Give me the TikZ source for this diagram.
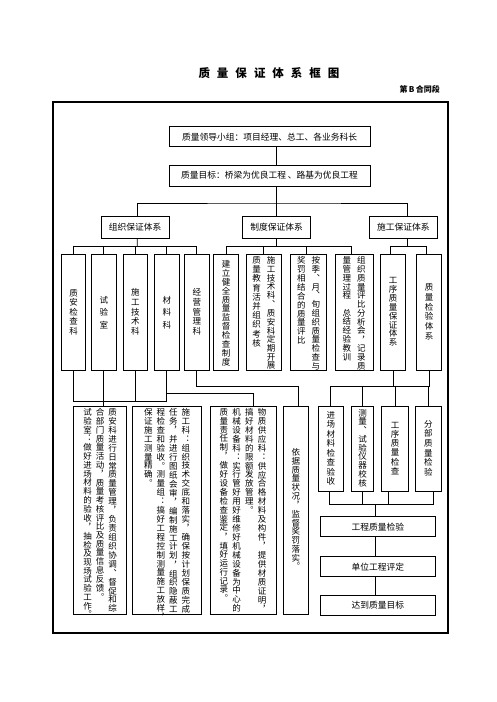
\documentclass[tikz,border=0pt]{standalone}
\usepackage{fontspec}
\setmainfont{Noto Sans CJK SC}
\usetikzlibrary{calc}
\newdimen\vcolpitch
\makeatletter
\def\vcol#1#2{\vtop{\fontsize{8.5pt}{10pt}\selectfont\addfontfeature{RawFeature=+vert}\offinterlineskip\vcolpitch=#1\relax\vcol@#2\relax}}
\def\vcol@#1{\ifx\relax#1\else\hbox to 8.8pt{\hss\vrule height .8\vcolpitch depth .2\vcolpitch width 0pt\relax #1\hss}\expandafter\vcol@\fi}
\makeatother
\newcommand\ftxt{\fontsize{8.75pt}{10pt}\selectfont}
\tikzset{
  bx/.style={draw, line width=0.75pt, inner sep=0pt, font=\ftxt},
  txt/.style={inner sep=0pt, font=\ftxt, anchor=north},
  ln/.style={line width=0.75pt},
}
\begin{document}
\begin{tikzpicture}[x=1pt,y=-1pt]
\useasboundingbox (0,0) rectangle (496,702);
\node[font=\fontsize{11.5pt}{13pt}\selectfont\bfseries, inner sep=0pt] (title) at (269,73)
  {质\hspace{7pt}量\hspace{7pt}保\hspace{7pt}证\hspace{7pt}体\hspace{7pt}系\hspace{7pt}框\hspace{7pt}图};
\node[font=\fontsize{8pt}{9pt}\selectfont\bfseries, inner sep=0pt, anchor=east] (sect) at (440,89) {第\,B\,合同段};
\draw[line width=1.6pt] (53,102) rectangle (448,633);

% top boxes
\node[bx, minimum width=201pt, minimum height=20pt] (lead) at (269.5,136.7) {质量领导小组：项目经理、总工、各业务科长};
\node[bx, minimum width=201pt, minimum height=21pt] (goal) at (269.5,175.5) {质量目标：桥梁为优良工程 、路基为优良工程};
\node[bx, minimum width=68.3pt, minimum height=22pt] (org) at (135.2,227) {组织保证体系};
\node[bx, minimum width=68.4pt, minimum height=22pt] (sys) at (276.5,227) {制度保证体系};
\node[bx, minimum width=68pt, minimum height=22pt] (con) at (403.3,227) {施工保证体系};

% row 4
\node[bx, minimum width=24pt, minimum height=115.7pt] (b1) at (73.7,312.2) {\vcol{9.5pt}{质安检查科}};
\node[bx, minimum width=25pt, minimum height=115.7pt] (b2) at (103.8,312.2) {\vcol{12.5pt}{试验室}};
\node[bx, minimum width=24pt, minimum height=115.7pt] (b3) at (135.3,312.2) {\vcol{9.6pt}{施工技术科}};
\node[bx, minimum width=25pt, minimum height=115.7pt] (b4) at (166.8,312.2) {\vcol{12.5pt}{材料科}};
\node[bx, minimum width=25pt, minimum height=115.7pt] (b5) at (196.8,312.2) {\vcol{9.6pt}{经营管理科}};
\node[bx, minimum width=25pt, minimum height=115.7pt] (b6) at (226,312.2) {};
\node[bx, minimum width=35.7pt, minimum height=115.7pt] (b7) at (263.8,312.2) {};
\node[bx, minimum width=36pt, minimum height=115.7pt] (b8) at (308.7,312.2) {};
\node[bx, minimum width=38.3pt, minimum height=115.7pt] (b9) at (354.2,312.2) {};
\node[bx, minimum width=25pt, minimum height=115.7pt] (b10) at (393.2,312.2) {\vcol{8.8pt}{工序质量保证体系}};
\node[bx, minimum width=25pt, minimum height=115.7pt] (b11) at (429.2,312.2) {\vcol{9.7pt}{质量检验体系}};
\node[txt] (t6) at ($(b6.north)+(0,6)$) {\vcol{8.8pt}{建立健全质量监督检查制度}};
\node[txt] (t7) at ($(b7.north)+(0,2)$) {\vcol{9.2pt}{质量教育活并组织考核}\hspace{5.7pt}\vcol{8.6pt}{施工技术科、质安科定期开展}};
\node[txt] (t8) at ($(b8.north)+(0,2.5)$) {\vcol{8.8pt}{奖罚相结合的质量评比}\hspace{5.7pt}\vcol{8.6pt}{按季、月、旬组织质量检查与}};
\node[txt] (t9) at ($(b9.north)+(0,2.5)$) {\vcol{8.5pt}{量管理过程~总结经验教训}\hspace{5.7pt}\vcol{8.6pt}{组织质量评比分析会，记录质}};

% row 5
\node[bx, minimum width=53.4pt, minimum height=208pt] (A) at (100,510) {};
\node[bx, minimum width=69pt, minimum height=208pt] (B) at (167.2,510) {};
\node[bx, minimum width=66pt, minimum height=208pt] (C) at (243,510) {};
\node[bx, minimum width=25pt, minimum height=208pt] (D) at (295.8,510) {\vcol{8.5pt}{依据质量状况，监督奖罚落实。}};
\node[txt] (tA) at ($(A.north)+(0,2.5)$) {\vcol{8.55pt}{试验室：做好进场材料的验收，抽检及现场试验工作。}\hspace{3.7pt}\vcol{8.6pt}{合部门质量活动，质量考核评比及质量信息反馈。}\hspace{3.7pt}\vcol{8.9pt}{质安科进行日常质量管理，负责组织协调、督促和综}};
\node[txt] (tB) at ($(B.north)+(0,2.5)$) {\vcol{8.9pt}{保证施工测量精确。}\hspace{3.7pt}\vcol{8.9pt}{程检查和验收。测量组：搞好工程控制测量施工放样，}\hspace{3.7pt}\vcol{8.9pt}{任务，并进行图纸会审，编制施工计划，组织隐蔽工}\hspace{3.7pt}\vcol{8.9pt}{施工科：组织技术交底和落实，确保按计划保质完成}};
\node[txt] (tC) at ($(C.north)+(0,2.5)$) {\vcol{8.7pt}{质量责任制，做好设备检查鉴定，填好运行记录。}\hspace{4pt}\vcol{8.9pt}{机械设备科：实行管好用好维修好机械设备为中心的}\hspace{4pt}\vcol{8.9pt}{搞好材料的限额发放管理。}\hspace{4pt}\vcol{8.9pt}{物质供应科：供应合格材料及构件，提供材质证明，}};
\node[bx, minimum width=25pt, minimum height=85pt] (E) at (330.8,448.5) {\vcol{9.5pt}{进场材料检查验收}};
\node[bx, minimum width=21.6pt, minimum height=85pt] (F) at (362.5,448.5) {\vcol{8.5pt}{测量、试验仪器校核}};
\node[bx, minimum width=26.6pt, minimum height=85pt] (G) at (395,448.5) {\vcol{9.3pt}{工序质量检查}};
\node[bx, minimum width=26.7pt, minimum height=85pt] (H) at (428.3,448.5) {\vcol{9.7pt}{分部质量检验}};
\node[bx, minimum width=114.3pt, minimum height=20pt] (I) at (377.8,526.7) {工程质量检验};
\node[bx, minimum width=114.3pt, minimum height=20pt] (J) at (377.8,566.7) {单位工程评定};
\node[bx, minimum width=114.3pt, minimum height=20pt] (K) at (377.8,605) {达到质量目标};

% connectors: top
\coordinate (xm) at (276,0);
\coordinate (bus1) at (276,203);
\draw[ln] (lead.south -| xm) -- (goal.north -| xm);
\draw[ln] (goal.south -| xm) -- (bus1);
\draw[ln] ($(org.north)+(2,0)$) |- (bus1) -| ($(con.north)+(4,0)$);
\draw[ln] (sys.north -| bus1) -- (bus1);

% level 2 buses
\coordinate (jL) at (137.3,246.7);
\coordinate (jM) at (276.5,246.7);
\coordinate (jR) at (407.5,246.7);
\draw[ln] ($(org.south)+(2,0)$) -- (jL);
\draw[ln] (b1.north) |- (jL);
\draw[ln] (b5.north) |- (jL);
\draw[ln] (b2.north) -- (b2.north |- jL);
\draw[ln] (b3.north) -- (b3.north |- jL);
\draw[ln] (b4.north) -- (b4.north |- jL);
\draw[ln] (sys.south) -- (jM);
\draw[ln] (b6.north) |- (jM);
\draw[ln] ($(b9.north)+(-2.5,0)$) |- (jM);
\draw[ln] (b7.north) -- (b7.north |- jM);
\draw[ln] ($(b8.north)+(-2,0)$) |- (jM);
\draw[ln] ($(con.south)+(4.2,0)$) -- (jR);
\draw[ln] ($(b10.north)+(-2.5,0)$) |- (jR);
\draw[ln] ($(b11.north)+(-2.5,0)$) |- (jR);

% below row 4
\coordinate (jA) at (103.8,401);
\draw[ln] (b1.south) |- (jA);
\draw[ln] (b3.south) |- (jA);
\draw[ln] (b4.south) |- (jA);
\draw[ln] (b2.south) -- ($(A.north)+(3.8,0)$);
\coordinate (kC) at (253.3,393.3);
\draw[ln] (b4.south) |- (kC) -- (kC |- C.north);
\coordinate (kD) at (298.3,386.7);
\draw[ln] (b5.south) |- (kD) -- (kD |- D.north);
\coordinate (kR) at (394,386.7);
\draw[ln] (b10.south) -- (b10.south |- kR);
\draw[ln] (E.north) |- (b11.south |- kR) -- (b11.south);
\draw[ln] (F.north) -- (F.north |- kR);
\draw[ln] (G.north) -- (G.north |- kR);
\draw[ln] (H.north) -- (H.north |- kR);

% bottom right
\coordinate (kI) at (375,504.3);
\draw[ln] ($(E.south)+(-1.5,0)$) |- (kI);
\draw[ln] ($(H.south)+(5,0)$) |- (kI);
\draw[ln] (F.south) |- (kI);
\draw[ln] ($(G.south)+(-6.7,0)$) |- (kI);
\draw[ln] (kI) -- (kI |- I.north);
\draw[ln] ($(I.south)+(-2,0)$) -- ($(J.north)+(-2,0)$);
\draw[ln] ($(J.south)+(-2,0)$) -- ($(K.north)+(-2,0)$);
\end{tikzpicture}
\end{document}
